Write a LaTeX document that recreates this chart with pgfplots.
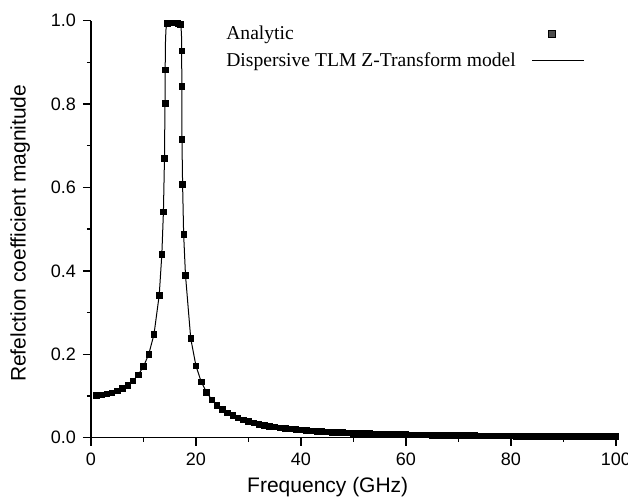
\documentclass[border=0pt]{standalone}
\usepackage{fontspec}
\setmainfont{Liberation Sans}
\newfontfamily\timesfont{Liberation Serif}
\usepackage{pgfplots}
\usepackage{pgfplotstable}
\pgfplotsset{compat=1.18}

\pgfplotstableread{
f g
1 0.1014
2 0.1027
3 0.1049
4 0.1080
5 0.1124
6 0.1183
7 0.1261
8 0.1365
9 0.1507
10 0.1706
11 0.2000
12 0.2476
13 0.3420
13.5 0.440
13.8 0.542
14 0.670
14.1 0.802
14.13 0.882
14.5 0.993
15 0.995
15.5 0.995
16 0.995
16.5 0.994
17 0.991
17.28 0.928
17.3 0.843
17.33 0.716
17.45 0.608
17.65 0.488
18 0.390
19 0.238
20 0.172
21 0.134
22 0.109
23 0.0910
24 0.0775
25 0.0679
26 0.0597
27 0.0530
28 0.0475
29 0.0429
30 0.0390
31 0.0354
32 0.0325
33 0.0300
34 0.0278
35 0.0258
36 0.0241
37 0.0225
38 0.0211
39 0.0198
40 0.0187
41 0.0176
42 0.0167
43 0.0158
44 0.0150
45 0.0142
46 0.0135
47 0.0129
48 0.0123
49 0.0117
50 0.0112
51 0.0107
52 0.0103
53 0.0099
54 0.0095
55 0.0091
56 0.0087
57 0.0084
58 0.0081
59 0.0078
60 0.0075
61 0.0073
62 0.0070
63 0.0068
64 0.0066
65 0.0063
66 0.0061
67 0.0060
68 0.0058
69 0.0056
70 0.0054
71 0.0053
72 0.0051
73 0.0050
74 0.0048
75 0.0047
76 0.0046
77 0.0044
78 0.0043
79 0.0042
80 0.0041
81 0.0040
82 0.0039
83 0.0038
84 0.0037
85 0.0036
86 0.0035
87 0.0034
88 0.0034
89 0.0033
90 0.0032
91 0.0031
92 0.0031
93 0.0030
94 0.0029
95 0.0029
96 0.0028
97 0.0028
98 0.0027
99 0.0026
100 0.0026
}\analytic

\pgfplotstableread{
f g
0.5 0.1010
1 0.1014
2 0.1027
3 0.1049
4 0.1080
5 0.1124
6 0.1183
7 0.1261
8 0.1365
9 0.1507
10 0.1706
11 0.2000
12 0.2476
13 0.3420
13.5 0.440
13.8 0.542
14 0.670
14.1 0.802
14.13 0.882
14.2 0.955
14.3 0.982
14.45 0.991
15 0.994
16 0.994
16.8 0.992
17.15 0.986
17.24 0.965
17.28 0.928
17.3 0.843
17.33 0.716
17.45 0.608
17.65 0.488
18 0.390
19 0.238
20 0.172
21 0.134
22 0.109
23 0.0910
24 0.0775
25 0.0679
26 0.0597
27 0.0530
28 0.0475
29 0.0429
30 0.0390
32 0.0325
34 0.0278
36 0.0241
38 0.0211
40 0.0187
42 0.0167
44 0.0150
46 0.0135
48 0.0123
50 0.0112
53 0.0099
56 0.0087
60 0.0075
65 0.0063
70 0.0054
75 0.0047
80 0.0041
85 0.0036
90 0.0032
95 0.0029
100 0.0026
}\tlm

\begin{document}
\begin{tikzpicture}
\begin{axis}[
  width=262.5pt, height=208.5pt, scale only axis,
  xmin=0, xmax=100, ymin=0, ymax=1,
  axis x line*=bottom, axis y line*=left,
  axis line style={line width=0.7pt, -},
  tick align=outside,
  major tick length=4pt, minor tick length=2pt,
  every tick/.style={line width=0.7pt, black},
  xtick={0,20,40,60,80,100}, minor x tick num=1,
  ytick={0,0.2,0.4,0.6,0.8,1.0}, minor y tick num=1,
  yticklabel style={/pgf/number format/.cd, fixed, fixed zerofill, precision=1},
  xticklabel style={overlay},
  /pgf/number format/assume math mode=true,
  ticklabel style={font=\fontsize{9}{11}\selectfont},
  clip=false,
  xlabel={Frequency (GHz)},
  ylabel={Refelction coefficient magnitude},
  label style={font=\fontsize{10.5}{12.5}\selectfont},
  xlabel style={at={(axis description cs:0.451,-0.118)}, anchor=center},
  ylabel style={at={(axis description cs:-0.135,0.49)}, anchor=center},
  legend plot pos=right,
  legend cell align=left,
  legend style={draw=none, fill=none, at={(axis description cs:0.238,1.008)}, anchor=north west,
    font=\timesfont\fontsize{9.8}{12.5}\selectfont, row sep=1pt,
    /tikz/every odd column/.append style={column sep=6pt}},
]
\addplot[only marks, mark=square*, mark size=1.4pt,
  mark options={fill=black, draw=black, line width=0.3pt},
  legend image code/.code={\draw[mark=square*, mark size=1.8pt, mark options={fill=black!70, draw=black, line width=0.4pt}] plot coordinates {(10pt,0pt)};}]
  table[x=f, y=g] {\analytic};
\addlegendentry{Analytic}
\addplot[black, line width=0.5pt, no marks,
  legend image code/.code={\draw[black, line width=0.5pt] (0pt,0pt) -- (26pt,0pt);}]
  table[x=f, y=g] {\tlm};
\addlegendentry{Dispersive TLM Z-Transform model}
\path (rel axis cs:-0.1733,-0.1542) rectangle (rel axis cs:1.0229,1.0496);
\end{axis}
\end{tikzpicture}
\end{document}
